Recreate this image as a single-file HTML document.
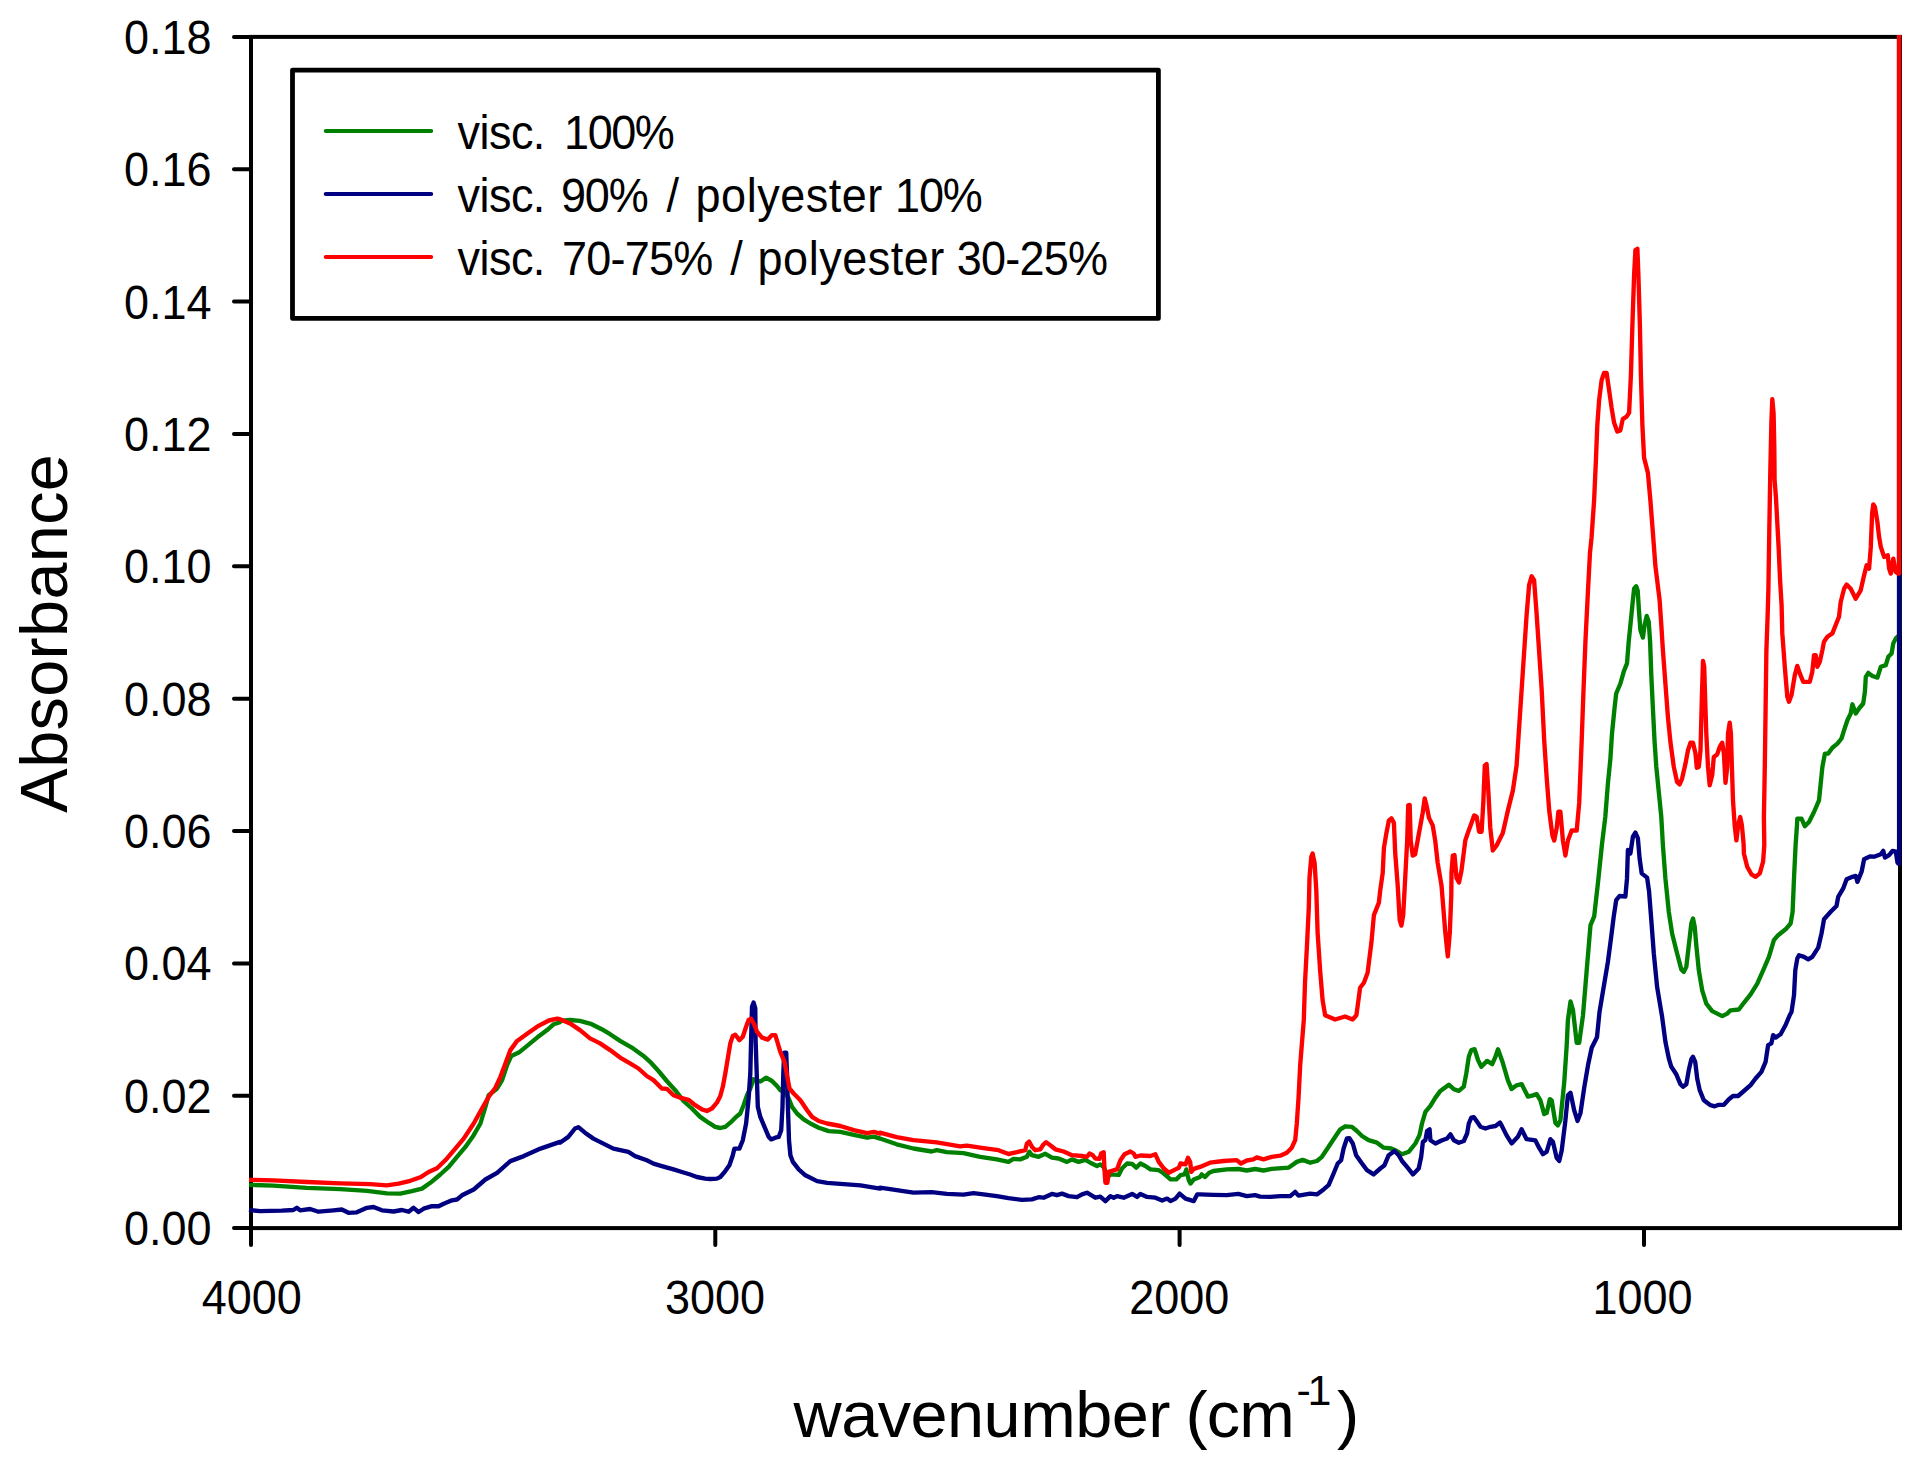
<!DOCTYPE html>
<html><head><meta charset="utf-8"><title>FTIR spectra</title>
<style>html,body{margin:0;padding:0;background:#fff}svg{display:block}text{font-family:"Liberation Sans",sans-serif;fill:#000}</style></head><body>
<svg width="1917" height="1462" viewBox="0 0 1917 1462">
<rect width="1917" height="1462" fill="#fff"/>
<g stroke="#000" stroke-width="4" fill="none" stroke-linecap="butt">
<rect x="251.0" y="36.9" width="1649.0" height="1191.1999999999998"/>
<line x1="234" y1="1228.1" x2="250.0" y2="1228.1" stroke-linecap="round"/>
<line x1="234" y1="1095.7" x2="250.0" y2="1095.7" stroke-linecap="round"/>
<line x1="234" y1="963.4" x2="250.0" y2="963.4" stroke-linecap="round"/>
<line x1="234" y1="831.0" x2="250.0" y2="831.0" stroke-linecap="round"/>
<line x1="234" y1="698.7" x2="250.0" y2="698.7" stroke-linecap="round"/>
<line x1="234" y1="566.3" x2="250.0" y2="566.3" stroke-linecap="round"/>
<line x1="234" y1="434.0" x2="250.0" y2="434.0" stroke-linecap="round"/>
<line x1="234" y1="301.6" x2="250.0" y2="301.6" stroke-linecap="round"/>
<line x1="234" y1="169.3" x2="250.0" y2="169.3" stroke-linecap="round"/>
<line x1="234" y1="36.9" x2="250.0" y2="36.9" stroke-linecap="round"/>
<line x1="251.0" y1="1229.1" x2="251.0" y2="1245" stroke-linecap="round"/>
<line x1="715.3" y1="1229.1" x2="715.3" y2="1245" stroke-linecap="round"/>
<line x1="1179.6" y1="1229.1" x2="1179.6" y2="1245" stroke-linecap="round"/>
<line x1="1644.0" y1="1229.1" x2="1644.0" y2="1245" stroke-linecap="round"/>
</g>
<g fill="none" stroke-width="4.35" stroke-linejoin="round" stroke-linecap="butt">
<path stroke="#008000" d="M249.0,1184.8 L273.4,1185.6 L306.8,1187.8 L340.2,1189.1 L366.9,1190.8 L386.9,1193.3 L400.3,1193.7 L411.9,1191.1 L422.0,1188.6 L430.3,1182.8 L440.3,1174.5 L448.7,1166.9 L457.0,1156.9 L465.4,1146.9 L473.7,1135.2 L480.4,1123.5 L485.4,1106.8 L488.7,1095.2 L497.1,1088.5 L502.1,1080.1 L507.1,1065.1 L511.3,1055.9 L518.8,1052.6 L527.1,1045.9 L537.1,1037.6 L547.1,1030.1 L553.8,1024.2 L560.0,1022.2 L560.0,1020.9 L570.0,1020.0 L580.0,1020.9 L591.7,1024.2 L601.7,1029.2 L610.1,1034.2 L620.1,1040.9 L631.8,1047.6 L643.5,1055.9 L650.1,1061.8 L658.5,1071.0 L666.8,1081.0 L675.2,1090.2 L683.5,1101.0 L691.9,1108.5 L700.2,1116.9 L708.6,1122.7 L715.2,1126.9 L720.3,1128.0 L725.3,1126.9 L730.3,1122.7 L735.3,1117.7 L740.3,1113.5 L743.6,1105.2 L747.0,1095.2 L750.3,1088.5 L753.6,1079.3 L760.3,1081.5 L766.2,1077.6 L772.0,1081.0 L777.0,1086.0 L780.3,1090.2 L784.5,1091.8 L788.7,1098.5 L792.0,1106.8 L797.0,1113.5 L803.7,1119.4 L810.4,1123.5 L818.7,1127.7 L828.8,1131.1 L840.4,1131.9 L853.8,1134.9 L867.1,1137.7 L873.8,1136.6 L880.0,1138.6 L880.0,1138.5 L896.7,1144.3 L913.4,1148.5 L931.7,1151.5 L936.8,1150.2 L946.8,1152.2 L963.5,1153.2 L980.2,1156.8 L996.8,1159.4 L1008.5,1161.9 L1013.5,1158.9 L1020.2,1159.4 L1026.9,1156.8 L1029.4,1151.8 L1031.9,1155.2 L1038.6,1156.8 L1045.3,1153.8 L1051.9,1157.7 L1058.6,1158.5 L1067.0,1161.9 L1072.0,1159.4 L1078.6,1161.9 L1085.3,1159.9 L1090.3,1162.7 L1097.0,1166.0 L1100.3,1164.4 L1103.7,1166.9 L1107.9,1176.9 L1110.4,1174.4 L1118.7,1174.9 L1122.0,1168.5 L1127.1,1163.5 L1132.1,1163.9 L1136.2,1167.7 L1140.4,1163.5 L1145.4,1166.0 L1150.4,1169.4 L1158.8,1170.2 L1163.8,1173.5 L1170.5,1179.4 L1176.3,1179.4 L1180.5,1175.2 L1184.6,1174.4 L1186.3,1169.4 L1188.8,1180.2 L1190.5,1183.6 L1193.8,1179.4 L1200.0,1176.9 L1201.7,1174.4 L1205.0,1176.9 L1209.2,1172.7 L1213.4,1171.0 L1226.7,1169.4 L1238.4,1169.0 L1246.8,1170.5 L1255.1,1169.0 L1263.5,1170.5 L1271.8,1168.9 L1288.5,1167.7 L1296.8,1161.9 L1302.7,1159.9 L1310.2,1162.7 L1316.9,1161.0 L1321.9,1156.8 L1328.6,1146.8 L1335.2,1136.8 L1340.3,1129.3 L1345.3,1126.3 L1351.9,1126.8 L1356.9,1131.0 L1362.0,1136.0 L1368.6,1140.2 L1377.0,1142.7 L1383.7,1147.7 L1391.2,1148.5 L1395.3,1150.2 L1402.0,1154.3 L1408.7,1151.8 L1415.4,1143.5 L1419.5,1135.1 L1422.0,1123.5 L1425.4,1111.8 L1430.4,1105.9 L1435.4,1097.6 L1440.4,1090.9 L1448.8,1084.7 L1453.8,1089.2 L1458.8,1090.9 L1463.8,1086.7 L1466.3,1073.4 L1468.8,1056.7 L1471.3,1050.0 L1474.6,1049.2 L1478.0,1060.0 L1481.3,1066.7 L1487.1,1060.9 L1492.2,1064.2 L1495.5,1056.7 L1498.0,1049.2 L1502.8,1062.8 L1507.9,1080.3 L1511.6,1089.1 L1516.6,1085.3 L1521.6,1084.1 L1527.9,1096.6 L1532.9,1095.4 L1536.7,1094.1 L1540.4,1100.4 L1544.2,1114.1 L1546.7,1112.9 L1549.9,1099.1 L1551.7,1100.4 L1555.4,1122.9 L1557.9,1125.4 L1560.4,1120.4 L1564.2,1082.8 L1566.7,1045.3 L1567.9,1020.2 L1570.5,1001.5 L1573.0,1010.2 L1576.7,1042.8 L1579.2,1042.8 L1583.0,1015.2 L1586.7,970.2 L1590.5,925.1 L1594.2,916.3 L1598.0,882.5 L1602.0,844.0 L1605.3,817.0 L1607.9,783.6 L1610.4,758.6 L1612.0,733.5 L1614.5,708.5 L1616.2,693.5 L1620.4,683.5 L1623.7,671.8 L1627.0,663.4 L1628.7,641.7 L1630.4,625.0 L1632.4,605.0 L1634.1,588.7 L1636.2,586.2 L1637.7,590.7 L1638.9,610.0 L1640.4,630.0 L1642.9,637.6 L1644.6,625.0 L1646.7,615.9 L1648.7,621.7 L1650.1,641.7 L1651.3,675.1 L1652.9,708.5 L1654.6,741.9 L1656.3,766.9 L1658.8,792.0 L1661.3,817.0 L1662.9,845.0 L1665.4,878.4 L1668.8,911.8 L1672.1,933.5 L1677.1,953.5 L1681.3,969.4 L1683.8,971.9 L1686.3,966.9 L1688.8,945.2 L1691.3,923.5 L1693.0,918.5 L1694.7,926.8 L1696.3,945.2 L1698.8,970.2 L1702.2,990.3 L1706.3,1003.6 L1712.2,1011.1 L1717.2,1013.6 L1722.2,1016.1 L1727.2,1013.6 L1730.5,1010.3 L1738.9,1009.5 L1743.9,1002.8 L1750.6,994.4 L1757.3,983.6 L1763.9,968.6 L1768.9,956.9 L1773.9,940.2 L1778.1,935.2 L1785.6,929.3 L1790.6,923.5 L1792.6,911.8 L1794.0,878.4 L1795.6,845.0 L1797.0,825.0 L1797.3,818.7 L1801.5,818.7 L1804.8,826.2 L1809.0,822.0 L1814.0,812.0 L1819.0,800.3 L1820.7,783.6 L1822.4,766.9 L1824.9,753.6 L1828.2,753.6 L1832.4,747.7 L1837.4,743.6 L1841.5,738.5 L1844.1,730.2 L1847.4,720.2 L1850.7,713.5 L1852.4,704.3 L1855.7,713.5 L1859.1,708.5 L1863.2,703.5 L1864.9,691.8 L1865.8,676.8 L1868.3,672.9 L1872.4,676.0 L1877.4,677.6 L1880.8,666.8 L1885.8,665.1 L1888.3,656.8 L1891.6,653.4 L1893.3,643.4 L1895.8,638.4 L1898.5,635.9 L1899.1,635.9 L1899.1,34.9"/>
<path stroke="#000080" d="M249.0,1209.8 L260.0,1211.2 L281.7,1210.7 L293.4,1210.0 L296.8,1207.8 L300.1,1210.3 L310.1,1209.0 L318.5,1211.7 L333.5,1210.3 L341.8,1209.5 L348.5,1212.8 L356.8,1212.3 L366.9,1207.8 L373.5,1207.0 L381.9,1210.3 L393.6,1211.5 L401.9,1210.0 L408.6,1211.7 L413.6,1207.8 L418.6,1212.0 L423.6,1208.7 L432.0,1206.2 L438.6,1206.2 L443.7,1203.7 L452.0,1200.3 L457.0,1199.5 L462.0,1195.3 L473.7,1189.5 L485.4,1179.5 L497.1,1172.8 L510.4,1161.1 L523.8,1156.1 L540.5,1148.6 L560.0,1141.9 L560.0,1142.7 L568.3,1136.9 L575.0,1128.5 L578.4,1127.2 L585.0,1132.7 L593.4,1138.6 L603.4,1143.6 L613.4,1148.6 L628.4,1151.9 L635.1,1156.1 L646.8,1160.3 L653.5,1163.6 L661.8,1166.1 L673.5,1169.4 L681.9,1172.0 L690.2,1174.5 L696.9,1177.0 L705.2,1178.6 L710.2,1179.0 L716.9,1178.6 L720.3,1177.0 L725.3,1171.1 L729.4,1165.3 L732.8,1155.3 L734.4,1148.6 L739.4,1148.6 L742.8,1140.2 L746.1,1123.5 L748.6,1098.5 L750.3,1073.5 L751.1,1040.1 L752.0,1006.7 L753.6,1002.5 L755.3,1008.4 L755.6,1040.1 L757.0,1081.8 L757.8,1106.8 L760.3,1116.9 L764.5,1126.9 L768.7,1136.9 L771.2,1139.4 L775.3,1137.7 L778.7,1136.9 L781.2,1130.2 L782.5,1106.8 L783.3,1073.5 L784.2,1052.6 L786.2,1052.6 L787.0,1073.5 L787.9,1106.8 L789.0,1140.2 L790.4,1155.3 L792.9,1161.9 L798.7,1169.4 L805.4,1175.3 L817.1,1181.1 L827.1,1182.8 L843.8,1184.1 L860.5,1185.3 L880.0,1188.6 L880.0,1187.7 L896.7,1190.2 L913.4,1192.7 L931.7,1192.2 L946.8,1193.9 L963.5,1194.7 L973.5,1193.1 L983.5,1194.4 L996.8,1196.1 L1008.5,1198.2 L1021.9,1199.9 L1031.9,1199.4 L1038.6,1197.2 L1043.6,1197.7 L1051.9,1193.9 L1056.9,1195.2 L1062.0,1193.6 L1068.6,1196.1 L1077.0,1197.2 L1082.0,1194.4 L1087.0,1192.7 L1095.3,1197.7 L1100.3,1196.6 L1105.4,1201.1 L1110.4,1196.1 L1113.7,1197.7 L1117.0,1196.1 L1123.7,1197.7 L1132.1,1193.9 L1137.1,1196.9 L1140.4,1193.9 L1147.1,1196.9 L1155.4,1197.7 L1162.1,1200.6 L1167.1,1198.6 L1170.5,1201.1 L1175.5,1198.6 L1179.6,1193.6 L1185.5,1198.6 L1193.8,1201.1 L1197.2,1194.4 L1200.0,1194.4 L1213.4,1194.9 L1226.7,1195.2 L1238.4,1193.9 L1246.8,1196.1 L1255.1,1195.2 L1260.1,1196.6 L1270.1,1196.9 L1280.2,1196.1 L1290.2,1196.1 L1295.2,1191.9 L1298.5,1195.6 L1310.2,1193.6 L1316.9,1194.4 L1323.6,1189.4 L1328.6,1185.2 L1333.6,1173.5 L1337.7,1163.5 L1341.1,1160.2 L1343.6,1148.5 L1346.9,1138.5 L1349.4,1138.2 L1352.8,1143.5 L1356.1,1155.2 L1362.0,1163.5 L1367.0,1170.2 L1373.6,1174.4 L1380.3,1168.5 L1384.5,1165.2 L1388.7,1155.2 L1394.5,1151.0 L1398.7,1155.2 L1402.0,1161.0 L1407.0,1166.9 L1412.9,1174.4 L1418.7,1168.5 L1421.2,1156.8 L1422.9,1141.8 L1425.4,1140.2 L1427.1,1131.0 L1429.6,1129.3 L1430.4,1140.2 L1435.4,1143.5 L1442.1,1140.2 L1447.1,1138.5 L1450.4,1134.3 L1453.8,1140.2 L1458.8,1142.7 L1463.8,1141.0 L1467.1,1133.5 L1468.8,1123.5 L1471.3,1117.6 L1473.8,1117.1 L1477.1,1121.8 L1480.5,1126.8 L1485.5,1128.5 L1490.5,1126.8 L1495.5,1126.0 L1500.0,1122.6 L1501.6,1125.4 L1506.6,1135.4 L1511.6,1143.4 L1517.9,1136.7 L1521.6,1129.2 L1526.6,1139.2 L1535.4,1140.4 L1539.2,1147.9 L1542.9,1154.2 L1546.7,1151.7 L1550.4,1139.2 L1552.9,1141.7 L1556.7,1157.9 L1559.2,1161.0 L1561.7,1150.4 L1565.4,1120.4 L1567.9,1095.4 L1570.5,1092.8 L1574.2,1110.4 L1577.5,1120.9 L1580.5,1112.9 L1584.2,1087.8 L1588.0,1065.3 L1591.7,1047.8 L1595.5,1040.3 L1597.0,1037.0 L1599.5,1012.0 L1603.7,986.9 L1607.9,961.9 L1611.2,936.8 L1613.7,916.8 L1616.2,900.1 L1619.5,896.0 L1625.4,896.5 L1627.0,878.4 L1627.9,850.0 L1630.4,853.4 L1632.9,836.7 L1635.4,832.5 L1637.9,838.4 L1639.6,858.4 L1641.7,873.4 L1647.1,877.6 L1649.1,891.8 L1651.3,920.2 L1653.8,953.5 L1657.1,986.9 L1661.3,1012.0 L1662.1,1016.7 L1665.4,1041.7 L1668.8,1058.4 L1671.3,1066.8 L1676.3,1074.3 L1680.5,1084.3 L1683.0,1086.8 L1686.3,1084.3 L1688.8,1070.1 L1691.3,1059.3 L1693.0,1056.8 L1695.2,1061.8 L1697.2,1078.5 L1699.7,1090.1 L1703.8,1100.2 L1710.5,1105.2 L1714.7,1106.3 L1718.9,1104.8 L1723.9,1104.8 L1728.9,1099.3 L1733.0,1096.0 L1738.1,1096.0 L1743.9,1091.0 L1750.6,1085.1 L1755.6,1078.5 L1761.4,1071.8 L1765.6,1061.8 L1768.1,1045.1 L1771.4,1043.4 L1773.1,1035.1 L1775.6,1037.6 L1780.6,1034.2 L1785.6,1025.0 L1789.8,1015.0 L1791.5,1012.0 L1794.0,995.3 L1795.3,970.2 L1797.3,958.5 L1799.0,955.2 L1804.0,956.9 L1808.2,959.4 L1812.3,956.9 L1818.2,947.7 L1821.5,933.5 L1824.0,919.3 L1830.7,911.8 L1836.5,906.0 L1838.2,896.8 L1843.2,888.4 L1846.6,879.3 L1852.4,876.8 L1855.7,875.9 L1857.4,881.8 L1861.6,871.7 L1864.1,859.2 L1869.9,856.4 L1874.1,856.7 L1880.8,854.2 L1883.3,850.9 L1884.9,857.6 L1889.1,855.1 L1892.5,850.9 L1895.8,851.7 L1897.5,862.6 L1898.5,863.7 L1899.1,863.7 L1899.1,34.9"/>
<path stroke="#ff0000" d="M249.0,1179.8 L273.4,1180.3 L306.8,1182.0 L340.2,1183.3 L370.2,1184.1 L386.9,1185.3 L398.6,1183.6 L410.3,1180.8 L420.3,1177.3 L428.6,1172.0 L437.0,1168.3 L445.3,1160.3 L455.3,1148.6 L463.7,1138.6 L473.7,1123.5 L482.0,1108.5 L488.7,1096.8 L495.4,1087.7 L500.4,1076.8 L505.4,1063.4 L510.4,1050.1 L517.1,1040.9 L527.1,1033.7 L537.1,1026.7 L548.8,1020.5 L557.2,1018.7 L560.0,1019.2 L570.0,1023.4 L580.0,1030.1 L590.0,1038.4 L600.1,1043.4 L610.1,1050.1 L620.1,1057.6 L630.1,1063.4 L638.5,1068.5 L646.8,1076.0 L653.5,1080.1 L661.8,1088.5 L666.8,1088.8 L673.5,1095.2 L680.2,1097.7 L688.5,1099.8 L695.2,1105.2 L701.9,1109.4 L706.9,1111.0 L711.9,1108.5 L716.9,1102.7 L720.3,1096.0 L722.8,1086.8 L725.3,1073.5 L727.8,1058.4 L730.3,1043.4 L732.8,1035.9 L735.3,1034.7 L739.4,1040.1 L742.8,1036.7 L746.1,1026.7 L748.6,1020.0 L751.1,1018.7 L754.5,1025.1 L757.0,1031.7 L762.0,1037.6 L767.8,1039.6 L772.0,1035.1 L775.3,1035.1 L777.8,1043.4 L780.3,1051.8 L784.5,1061.8 L787.0,1075.1 L789.5,1088.5 L793.7,1093.5 L800.4,1100.2 L807.1,1110.2 L812.1,1116.9 L818.7,1121.0 L827.1,1123.5 L840.4,1126.0 L853.8,1130.2 L867.1,1133.2 L873.8,1131.9 L880.0,1133.6 L880.0,1132.6 L896.7,1137.2 L913.4,1140.2 L936.8,1142.3 L960.1,1146.3 L966.8,1145.7 L983.5,1148.2 L998.5,1150.2 L1008.5,1154.0 L1016.9,1152.2 L1025.2,1150.2 L1026.9,1143.5 L1029.1,1141.5 L1031.9,1146.8 L1035.2,1150.2 L1040.3,1149.3 L1043.6,1144.3 L1046.1,1142.2 L1050.3,1145.2 L1055.3,1149.3 L1063.6,1151.5 L1072.0,1155.2 L1082.0,1156.0 L1087.0,1156.8 L1089.5,1153.5 L1092.8,1155.2 L1095.3,1158.5 L1099.5,1158.9 L1101.2,1153.5 L1103.7,1152.2 L1104.5,1170.2 L1105.4,1182.7 L1107.4,1182.7 L1108.7,1171.9 L1113.7,1170.2 L1117.0,1169.4 L1120.4,1160.2 L1124.5,1154.3 L1130.4,1151.5 L1133.7,1153.5 L1135.4,1156.8 L1140.4,1155.5 L1150.4,1156.0 L1155.4,1154.3 L1158.8,1161.9 L1163.8,1168.5 L1168.8,1172.7 L1175.5,1169.4 L1178.8,1167.7 L1180.5,1163.5 L1185.5,1164.4 L1188.0,1157.7 L1190.2,1161.9 L1191.3,1171.9 L1193.8,1168.9 L1200.0,1166.9 L1210.0,1162.7 L1223.4,1161.0 L1236.8,1160.2 L1240.9,1163.5 L1246.8,1160.5 L1253.4,1159.4 L1256.8,1157.4 L1263.5,1159.4 L1271.8,1156.8 L1280.2,1155.7 L1286.8,1152.7 L1291.8,1147.7 L1295.2,1140.2 L1296.8,1123.5 L1298.5,1098.4 L1300.2,1065.0 L1303.8,1020.2 L1305.0,982.7 L1307.0,945.1 L1308.8,907.6 L1309.5,878.0 L1311.3,856.7 L1312.6,853.5 L1314.6,863.0 L1316.3,890.5 L1317.6,932.6 L1320.1,970.2 L1322.6,1000.2 L1325.1,1015.2 L1335.1,1019.5 L1345.1,1016.5 L1352.6,1019.5 L1356.4,1015.2 L1360.1,987.7 L1363.9,982.7 L1367.6,972.7 L1371.4,942.6 L1373.9,915.1 L1378.9,902.6 L1380.2,890.5 L1382.7,873.0 L1383.9,848.0 L1386.4,833.0 L1388.9,820.4 L1391.4,818.4 L1393.9,822.9 L1395.2,853.0 L1397.7,885.5 L1399.7,920.1 L1401.4,925.6 L1403.2,915.1 L1405.2,878.0 L1407.2,840.5 L1408.2,805.4 L1409.7,804.9 L1410.7,840.5 L1412.7,855.5 L1415.2,854.2 L1419.0,833.0 L1422.7,812.9 L1424.7,798.4 L1426.5,805.4 L1429.0,817.9 L1432.7,825.4 L1435.2,840.5 L1437.7,863.0 L1441.5,885.5 L1443.3,907.6 L1445.3,932.6 L1447.8,956.4 L1449.8,932.6 L1451.3,895.0 L1451.5,873.0 L1452.8,855.5 L1454.5,855.0 L1456.5,878.0 L1459.0,882.5 L1461.5,870.5 L1465.3,840.5 L1467.8,833.0 L1471.5,822.9 L1474.1,815.4 L1476.6,816.7 L1479.1,831.7 L1481.6,831.7 L1483.3,802.9 L1484.8,765.4 L1486.6,764.1 L1488.3,790.4 L1490.3,827.9 L1492.8,850.5 L1496.6,845.5 L1502.8,833.0 L1507.9,810.4 L1512.9,790.4 L1516.6,765.4 L1519.1,727.8 L1521.6,690.2 L1524.1,652.7 L1526.6,615.1 L1529.1,585.1 L1531.6,576.3 L1534.1,580.1 L1536.7,615.1 L1539.2,652.7 L1541.7,690.2 L1544.2,740.3 L1546.7,777.9 L1549.2,810.4 L1552.4,835.5 L1554.2,840.5 L1556.7,827.9 L1558.4,811.7 L1560.4,811.7 L1562.9,840.5 L1565.4,855.5 L1567.9,840.5 L1571.7,830.5 L1576.7,830.5 L1579.2,802.9 L1581.7,740.3 L1583.5,690.2 L1585.5,640.2 L1588.0,590.1 L1590.0,552.5 L1591.5,538.0 L1594.1,500.5 L1595.8,462.9 L1597.3,425.4 L1599.1,400.3 L1601.6,380.3 L1604.1,372.8 L1606.6,372.8 L1609.1,390.3 L1611.6,407.8 L1614.1,422.8 L1617.3,431.6 L1620.3,430.4 L1622.8,419.1 L1626.6,416.6 L1629.1,412.8 L1630.9,375.3 L1632.4,325.2 L1634.1,275.1 L1635.4,250.1 L1637.4,248.8 L1638.4,275.1 L1639.9,325.2 L1640.9,375.3 L1642.4,425.4 L1644.1,457.9 L1647.9,472.9 L1650.4,500.5 L1652.9,533.0 L1655.4,566.1 L1659.6,600.0 L1661.3,625.0 L1662.9,650.1 L1665.4,683.5 L1667.9,716.8 L1670.4,741.9 L1673.8,766.9 L1677.1,782.0 L1679.6,784.5 L1682.1,778.6 L1685.5,763.6 L1688.0,750.2 L1690.5,742.7 L1693.0,742.7 L1695.5,753.6 L1696.8,767.8 L1698.8,766.9 L1700.5,750.2 L1701.8,700.2 L1703.0,660.9 L1704.2,666.8 L1705.2,700.2 L1706.3,733.5 L1708.0,766.9 L1709.7,785.3 L1712.2,775.3 L1713.8,756.9 L1717.2,754.4 L1719.7,746.9 L1722.2,742.7 L1723.9,753.6 L1725.5,782.8 L1727.2,766.9 L1728.0,733.5 L1729.7,722.7 L1730.9,733.5 L1731.9,766.9 L1733.0,800.3 L1734.7,825.4 L1736.4,840.4 L1738.1,825.4 L1740.2,817.0 L1741.9,825.4 L1743.6,844.0 L1743.9,853.4 L1747.2,866.7 L1751.4,874.3 L1755.6,876.8 L1759.8,873.4 L1763.1,861.7 L1764.3,845.0 L1763.9,817.0 L1764.8,766.9 L1765.6,708.5 L1766.4,650.1 L1767.6,616.7 L1768.4,588.7 L1769.3,530.2 L1770.3,471.8 L1771.4,421.7 L1772.3,399.2 L1773.6,413.4 L1774.3,446.8 L1774.6,480.2 L1775.9,496.8 L1776.8,513.5 L1778.6,546.9 L1780.1,580.3 L1781.6,605.4 L1782.3,633.4 L1784.8,666.8 L1787.3,696.8 L1789.0,701.8 L1791.5,695.1 L1794.8,675.1 L1797.3,665.9 L1799.8,673.4 L1803.2,681.8 L1809.8,681.8 L1812.3,671.8 L1814.0,655.1 L1815.7,655.1 L1817.3,666.8 L1819.8,661.8 L1822.4,650.1 L1824.0,641.7 L1827.4,636.7 L1832.4,633.4 L1835.7,625.0 L1839.0,616.7 L1840.7,602.0 L1844.1,588.7 L1846.6,584.5 L1850.7,588.7 L1855.7,598.7 L1860.7,590.3 L1864.1,575.3 L1866.6,565.3 L1869.1,568.6 L1870.8,546.9 L1872.1,513.5 L1873.3,504.4 L1874.9,506.9 L1877.4,521.9 L1879.1,536.9 L1880.8,546.9 L1884.1,556.9 L1887.8,555.3 L1889.1,568.6 L1890.8,573.6 L1893.3,558.6 L1895.8,572.0 L1898.3,573.6 L1899.1,573.6 L1899.1,34.9"/>
</g>
<rect x="292.5" y="70.1" width="865.9" height="248.3" fill="#fff" stroke="#000" stroke-width="4.8" stroke-linejoin="round"/>
<g stroke-width="4.2" stroke-linecap="round"><line x1="325.8" y1="131" x2="431.1" y2="131" stroke="#008000"/><line x1="325.8" y1="194" x2="431.1" y2="194" stroke="#000080"/><line x1="325.8" y1="257" x2="431.1" y2="257" stroke="#ff0000"/></g>
<text transform="translate(457.40,149.3) scale(1,1.05)" font-size="45px" letter-spacing="-0.5">visc.</text>
<text transform="translate(564.10,149.3) scale(1,1.05)" font-size="45px" letter-spacing="-1.45">100%</text>
<text transform="translate(457.40,212.0) scale(1,1.05)" font-size="45px" letter-spacing="-0.5">visc.</text>
<text transform="translate(561.00,212.0) scale(1,1.05)" font-size="45px" letter-spacing="-1.2">90%</text>
<text transform="translate(666.60,212.0) scale(1,1.05)" font-size="45px">/</text>
<text transform="translate(695.60,212.0) scale(1,1.05)" font-size="45px" letter-spacing="0.5">polyester</text>
<text transform="translate(895.10,212.0) scale(1,1.05)" font-size="45px" letter-spacing="-1.2">10%</text>
<text transform="translate(457.40,275.0) scale(1,1.05)" font-size="45px" letter-spacing="-0.5">visc.</text>
<text transform="translate(562.00,275.0) scale(1,1.05)" font-size="45px" letter-spacing="-0.76">70-75%</text>
<text transform="translate(730.30,275.0) scale(1,1.05)" font-size="45px">/</text>
<text transform="translate(757.60,275.0) scale(1,1.05)" font-size="45px" letter-spacing="0.5">polyester</text>
<text transform="translate(956.70,275.0) scale(1,1.05)" font-size="45px" letter-spacing="-0.76">30-25%</text>
<text transform="translate(124.00,1245.1) scale(1,1.05)" font-size="45px">0.00</text>
<text transform="translate(124.00,1112.7) scale(1,1.05)" font-size="45px">0.02</text>
<text transform="translate(124.00,980.4) scale(1,1.05)" font-size="45px">0.04</text>
<text transform="translate(124.00,848.0) scale(1,1.05)" font-size="45px">0.06</text>
<text transform="translate(124.00,715.7) scale(1,1.05)" font-size="45px">0.08</text>
<text transform="translate(124.00,583.3) scale(1,1.05)" font-size="45px">0.10</text>
<text transform="translate(124.00,451.0) scale(1,1.05)" font-size="45px">0.12</text>
<text transform="translate(124.00,318.6) scale(1,1.05)" font-size="45px">0.14</text>
<text transform="translate(124.00,186.3) scale(1,1.05)" font-size="45px">0.16</text>
<text transform="translate(124.00,53.9) scale(1,1.05)" font-size="45px">0.18</text>
<text transform="translate(201.80,1313.8) scale(1,1.05)" font-size="45px">4000</text>
<text transform="translate(665.02,1313.8) scale(1,1.05)" font-size="45px">3000</text>
<text transform="translate(1129.24,1313.8) scale(1,1.05)" font-size="45px">2000</text>
<text transform="translate(1592.46,1313.8) scale(1,1.05)" font-size="45px">1000</text>
<text transform="translate(793.60,1437.0) scale(1,0.97)" font-size="66.7px" letter-spacing="-0.55">wavenumber</text>
<text transform="translate(1185.60,1437.0) scale(1,0.97)" font-size="66.7px" letter-spacing="-1.0">(cm</text>
<text transform="translate(1296.60,1404.7) scale(1,1)" font-size="43px" letter-spacing="-3.5">-1</text>
<text transform="translate(1337.00,1437.0) scale(1,0.97)" font-size="66.7px">)</text>
<text font-size="66.7px" transform="translate(66.5,633.2) rotate(-90)" text-anchor="middle" letter-spacing="0.3">Absorbance</text>
</svg></body></html>
